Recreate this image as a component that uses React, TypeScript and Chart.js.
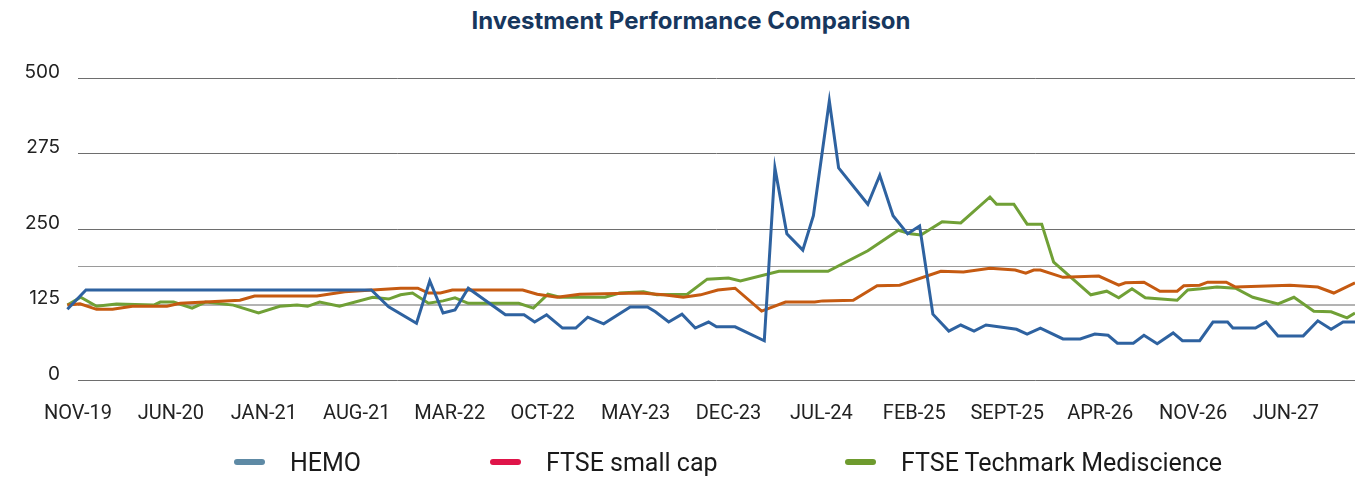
import React, { useEffect, useRef } from "react";
import { Chart, registerables } from "chart.js";

Chart.register(...registerables);

const chartTitle = "Investment Performance Comparison";

// x positions are months since Nov-2019
const xTickMonths = [0, 7, 14, 21, 28, 35, 42, 49, 56, 63, 70, 77, 84, 91];
const xTickLabels = [
  "NOV-19", "JUN-20", "JAN-21", "AUG-21", "MAR-22", "OCT-22", "MAY-23",
  "DEC-23", "JUL-24", "FEB-25", "SEPT-25", "APR-26", "NOV-26", "JUN-27",
];
const yTickValues = [0, 125, 187.5, 250, 375, 500];
const yTickLabels = ["0", "125", "", "250", "275", "500"];

const hemoX = [-0.8, 0.6, 22.1, 23.4, 25.5, 26.5, 27.5, 28.4, 29.4, 32.2, 33.6, 34.4, 35.3, 36.5, 37.5, 38.4, 39.6, 41.6, 42.9, 43.5, 44.5, 45.5, 46.5, 47.5, 48.1, 49.5, 51.7, 52.5, 53.4, 54.6, 55.4, 56.6, 57.3, 59.5, 60.4, 61.4, 62.5, 63.4, 64.4, 65.6, 66.5, 67.5, 68.4, 70.7, 71.5, 72.5, 74.2, 75.5, 76.6, 77.6, 78.3, 79.5, 80.3, 81.3, 82.5, 83.2, 84.5, 85.5, 86.6, 87.0, 88.7, 89.5, 90.4, 92.3, 93.4, 94.4, 95.3, 96.2];
const hemoY = [117, 149, 149, 121, 94, 164, 111, 116, 152, 108, 108, 96, 108, 86, 86, 104, 93, 121, 121, 113, 96, 109, 86, 96, 88, 88, 65, 351, 242, 215, 272, 462, 351, 291, 339, 272, 242, 255, 109, 81, 91, 81, 91, 84, 76, 86, 68, 68, 76, 74, 61, 61, 74, 60, 78, 65, 65, 96, 96, 86, 86, 96, 73, 73, 98, 84, 96, 96];

const smallCapX = [-0.8, 0.15, 1.4, 2.6, 4.1, 6.7, 7.7, 12.2, 13.3, 18.0, 20.1, 22.2, 24.3, 25.6, 26.4, 27.3, 28.2, 33.5, 34.6, 36.1, 37.8, 42.4, 44.1, 45.6, 46.9, 48.2, 49.5, 51.5, 53.3, 55.5, 56.1, 58.4, 60.2, 61.9, 65.0, 66.7, 68.7, 70.6, 71.4, 72.0, 72.5, 74.2, 76.9, 78.4, 78.9, 80.3, 81.5, 82.8, 83.3, 84.5, 85.1, 86.5, 87.2, 91.3, 93.4, 94.6, 96.2];
const smallCapY = [124, 126, 117, 117, 122, 122, 127, 132, 139, 139, 146, 149, 152, 152, 144, 144, 149, 149, 142, 137, 142, 144, 141, 137, 141, 149, 152, 114, 129, 129, 131, 132, 156, 157, 180, 179, 185, 182, 177, 182, 182, 170, 172, 157, 161, 162, 147, 147, 156, 157, 162, 162, 154, 157, 154, 144, 161];

const techX = [-0.8, 0.2, 1.4, 2.9, 5.7, 6.2, 7.2, 8.6, 9.6, 11.7, 13.6, 15.2, 16.5, 17.3, 18.2, 19.7, 22.2, 23.4, 24.3, 25.2, 26.4, 27.5, 28.4, 29.4, 33.2, 34.3, 35.4, 36.3, 39.7, 40.8, 42.6, 43.6, 45.9, 47.4, 49.0, 49.9, 52.8, 56.5, 59.5, 61.8, 62.7, 63.5, 65.1, 66.5, 68.7, 69.2, 70.5, 71.5, 72.6, 73.5, 76.3, 77.5, 78.4, 79.4, 80.4, 82.8, 83.6, 84.6, 85.8, 87.2, 88.5, 90.4, 91.6, 93.1, 94.4, 95.6, 96.2];
const techY = [124, 137, 122, 126, 124, 129, 129, 119, 129, 124, 111, 122, 124, 122, 129, 122, 137, 134, 141, 144, 127, 131, 136, 127, 127, 119, 142, 137, 137, 144, 146, 141, 142, 167, 169, 164, 180, 180, 214, 248, 242, 240, 262, 260, 303, 291, 291, 258, 258, 195, 141, 147, 136, 151, 136, 132, 149, 151, 154, 152, 137, 126, 137, 114, 113, 103, 111];

const seriesNames = ["HEMO", "FTSE small cap", "FTSE Techmark Mediscience"];
const lineColors = ["#2e62a0", "#c55a11", "#70a036"];
const legendColors = ["#5e8aa5", "#df1449", "#6e9b2e"];
const legendLefts = [234, 490, 845];

const gridColors = ["#6e6e6e", "#b3b3b3", "#9a9a9a", "#6e6e6e", "#6e6e6e", "#6e6e6e"];
const gridWidths = [1, 2, 1, 1, 1, 1];

const toPoints = (xs: number[], ys: number[]) => xs.map((x, i) => ({ x, y: ys[i] }));

export default function App() {
  const canvasRef = useRef<HTMLCanvasElement | null>(null);

  useEffect(() => {
    const prevMargin = document.body.style.margin;
    document.body.style.margin = "0";
    const ctx = canvasRef.current;
    if (!ctx) return;
    const seriesData = [toPoints(hemoX, hemoY), toPoints(smallCapX, smallCapY), toPoints(techX, techY)];
    const chart = new Chart(ctx, {
      type: "line",
      data: {
        datasets: seriesNames.map((name, i) => ({
          label: name,
          data: seriesData[i],
          borderColor: lineColors[i],
          backgroundColor: lineColors[i],
          borderWidth: 3,
          pointRadius: 0,
          tension: 0,
          clip: false as any,
        })),
      },
      options: {
        animation: false,
        responsive: false,
        maintainAspectRatio: false,
        layout: { padding: { top: 78, right: 0, bottom: 0, left: 0 } },
        plugins: {
          legend: { display: false },
          title: { display: false },
          tooltip: { enabled: false },
        },
        scales: {
          x: {
            type: "linear",
            min: 0,
            max: 96.2,
            grid: { display: false, drawTicks: false },
            border: { display: false },
            afterBuildTicks: (scale: any) => {
              scale.ticks = xTickMonths.map((v) => ({ value: v }));
            },
            afterFit: (scale: any) => {
              scale.height = 97;
            },
            ticks: {
              autoSkip: false,
              maxRotation: 0,
              padding: 22,
              color: "#222222",
              font: { family: "Roboto", size: 20 },
              callback: (v: any) => {
                const idx = xTickMonths.indexOf(Number(v));
                return idx >= 0 ? xTickLabels[idx] : "";
              },
            },
          },
          y: {
            type: "linear",
            min: 0,
            max: 500,
            grid: {
              drawTicks: false,
              color: (c: any) => gridColors[c.index] ?? "#6e6e6e",
              lineWidth: (c: any) => gridWidths[c.index] ?? 1,
            },
            border: { display: false },
            afterBuildTicks: (scale: any) => {
              scale.ticks = yTickValues.map((v) => ({ value: v }));
            },
            afterFit: (scale: any) => {
              scale.width = 78;
            },
            ticks: {
              padding: 18,
              labelOffset: -6,
              color: "#222222",
              font: { family: "Inter", size: 19 },
              callback: (v: any) => {
                const idx = yTickValues.indexOf(Number(v));
                return idx >= 0 ? yTickLabels[idx] : "";
              },
            },
          },
        },
      },
    });
    return () => {
      chart.destroy();
      document.body.style.margin = prevMargin;
    };
  }, []);

  return (
    <div style={{ position: "relative", width: 1355, height: 477, background: "#ffffff", overflow: "hidden" }}>
      <div
        style={{
          position: "absolute",
          top: 6,
          left: 0,
          width: 1382,
          textAlign: "center",
          fontFamily: "Inter",
          fontWeight: 700,
          fontSize: 24,
          color: "#17375e",
          lineHeight: "30px",
        }}
      >
        {chartTitle}
      </div>
      <canvas ref={canvasRef} width={1355} height={477} style={{ position: "absolute", left: 0, top: 0 }} />
      {seriesNames.map((name, i) => (
        <div
          key={name}
          style={{
            position: "absolute",
            left: legendLefts[i],
            top: 448,
            height: 28,
            display: "flex",
            alignItems: "center",
            fontFamily: "Roboto",
            fontSize: 25,
            color: "#1a1a1a",
            whiteSpace: "nowrap",
          }}
        >
          <span
            style={{
              display: "inline-block",
              width: 31,
              height: 6,
              borderRadius: 3,
              background: legendColors[i],
              marginRight: 25,
            }}
          />
          {name}
        </div>
      ))}
    </div>
  );
}
